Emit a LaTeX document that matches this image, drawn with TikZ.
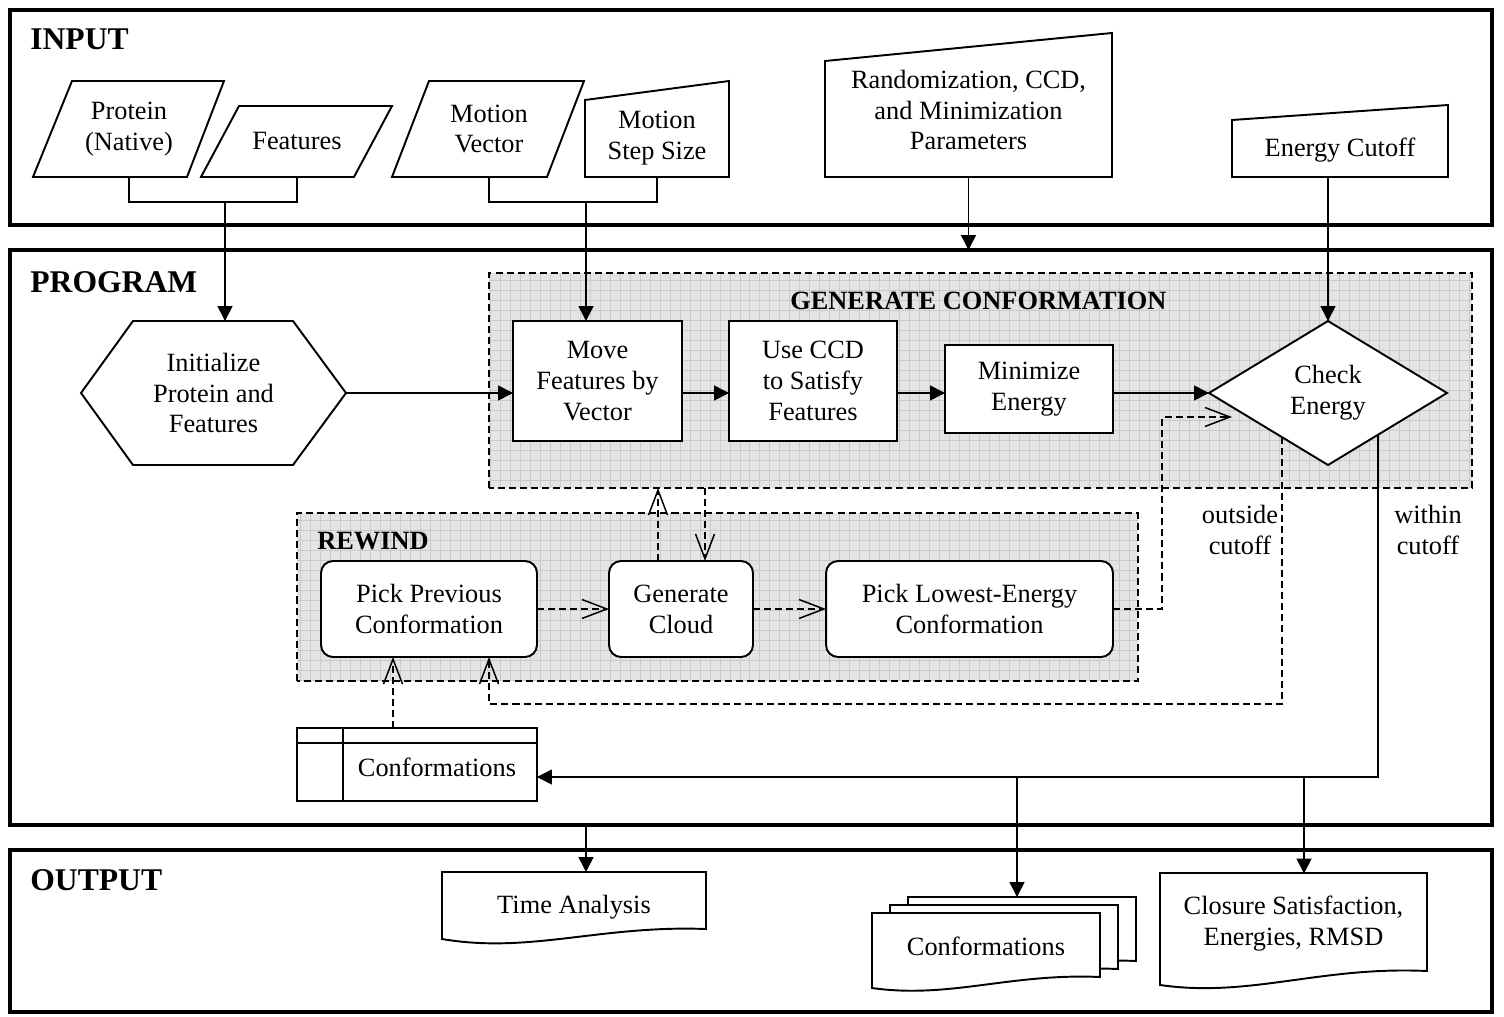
\documentclass[tikz,border=0pt]{standalone}
\usepackage{fontspec}
\setmainfont{Liberation Serif}
\usetikzlibrary{shapes.geometric,arrows.meta,calc}

\definecolor{regionfill}{HTML}{E4E4E4}
\definecolor{regiongrid}{HTML}{CACACA}

\begin{document}
\begin{tikzpicture}[x=0.02cm, y=-0.02cm,
  font=\fontsize{15}{17.6}\selectfont,
  panel/.style={draw, line width=2.3pt},
  shp/.style={draw, line width=1.1pt, fill=white},
  txt/.style={align=center, inner sep=0pt, outer sep=0pt},
  box/.style={draw, line width=1.1pt, fill=white, align=center, inner sep=0pt, outer sep=0pt},
  rbox/.style={box, rounded corners=0.24cm},
  region/.style={fill=regionfill, inner sep=0pt, outer sep=0pt},
  regionline/.style={draw, line width=0.85pt, dash pattern=on 4pt off 2.3pt},
  gridline/.style={draw=regiongrid, line width=0.4pt, step=0.2cm},
  wire/.style={line width=0.85pt},
  flow/.style={wire, -{Triangle[length=0.3cm, width=0.3cm]}},
  loop/.style={wire, dash pattern=on 4pt off 2.3pt, -{Straight Barb[length=0.5cm, width=0.38cm]}},
  head/.style={font=\fontsize{18}{21}\selectfont\bfseries, anchor=base west, inner sep=0pt},
  subhead/.style={font=\fontsize{15}{17.6}\selectfont\bfseries, anchor=base west, inner sep=0pt},
]

\fill[white] (0,0) rectangle (1504,1017);
\useasboundingbox (0,0) rectangle (1504,1017);

% Input panel
\draw[panel] (10,10) rectangle (1492,225);
\node[head] (inhead) at (30,50) {INPUT};

\draw[shp] (72,81) -- (224,81) -- (187,177) -- (33,177) -- cycle;
\node[txt, minimum height=1.92cm] (prot) at (129,129) {Protein\\(Native)};
\draw[shp] (239,106) -- (392,106) -- (354,177) -- (201,177) -- cycle;
\node[txt, minimum height=1.42cm] (feat) at (297,141.5) {Features};
\draw[shp] (429,81) -- (584,81) -- (547,177) -- (392,177) -- cycle;
\node[txt, minimum height=1.92cm] (mvec) at (489,129) {Motion\\Vector};
\draw[shp] (585,100) -- (729,81) -- (729,177) -- (585,177) -- cycle;
\node[txt, minimum height=1.54cm] (mstep) at (657,138.5) {Motion\\Step Size};
\draw[shp] (825,61) -- (1112,33) -- (1112,177) -- (825,177) -- cycle;
\node[txt, minimum height=2.68cm] (rand) at (968.5,110) {Randomization, CCD,\\and Minimization\\Parameters};
\draw[shp] (1232,120) -- (1448,105) -- (1448,177) -- (1232,177) -- cycle;
\node[txt, minimum height=1.08cm] (ecut) at (1340,150) {Energy Cutoff};

% Program panel
\draw[panel] (10,250) rectangle (1492,825);
\node[head] (proghead) at (30,292) {PROGRAM};

% Shaded regions
\node[region, minimum width=19.66cm, minimum height=4.3cm] (gen) at (980.5,380.5) {};
\draw[gridline] (gen.south west) grid (gen.north east);
\draw[regionline] (gen.south west) rectangle (gen.north east);
\node[subhead] (genhead) at (790,309) {GENERATE CONFORMATION};

\node[region, minimum width=16.82cm, minimum height=3.36cm] (rew) at (717.5,597) {};
\draw[gridline] (rew.south west) grid (rew.north east);
\draw[regionline] (rew.south west) rectangle (rew.north east);
\node[subhead] (rewhead) at (317,549) {REWIND};

% Program steps
\draw[shp] (81,393) -- (133,321) -- (293,321) -- (346,393) -- (293,465) -- (133,465) -- cycle;
\node[txt, minimum width=5.3cm, minimum height=2.88cm] (hex) at (213.5,393) {Initialize\\Protein and\\Features};

\node[box, minimum width=3.38cm, minimum height=2.4cm] (move) at (597.5,381) {Move\\Features by\\Vector};
\node[box, minimum width=3.36cm, minimum height=2.4cm] (ccd) at (813,381) {Use CCD\\to Satisfy\\Features};
\node[box, minimum width=3.36cm, minimum height=1.76cm] (mini) at (1029,389) {Minimize\\Energy};
\node[box, diamond, minimum width=4.76cm, minimum height=2.88cm] (check) at (1328,393) {Check\\Energy};

\node[rbox, minimum width=4.32cm, minimum height=1.92cm] (pick) at (429,609) {Pick Previous\\Conformation};
\node[rbox, minimum width=2.88cm, minimum height=1.92cm] (cloud) at (681,609) {Generate\\Cloud};
\node[rbox, minimum width=5.74cm, minimum height=1.92cm] (low) at (969.5,609) {Pick Lowest-Energy\\Conformation};

% Stored conformations
\node[draw, line width=1.1pt, fill=white, minimum width=4.8cm, minimum height=1.46cm, inner sep=0pt, outer sep=0pt] (store) at (417,764.5) {};
\draw[line width=1.1pt] ($(store.north west)+(0,15)$) -- ($(store.north east)+(0,15)$);
\draw[line width=1.1pt] ($(store.north west)+(46,0)$) -- ($(store.south west)+(46,0)$);
\node[txt] (storetxt) at (437,767) {Conformations};

\node[txt] (outside) at (1240,530) {outside\\cutoff};
\node[txt] (within) at (1428,530) {within\\cutoff};

% Output panel
\draw[panel] (10,850) rectangle (1492,1012);
\node[head] (outhead) at (30,890) {OUTPUT};

\draw[shp] (442,872) -- (706,872) -- (706,929) .. controls (600,925) and (530,954) .. (442,939) -- cycle;
\node[txt, minimum height=1.4cm] (time) at (574,907) {Time Analysis};

\foreach \dx/\dy in {36/-16, 18/-8, 0/0}
  \draw[shp, shift={(\dx,\dy)}] (872,913) -- (1100,913) -- (1100,977) .. controls (1010,973) and (950,999) .. (872,988) -- cycle;
\node[txt] (stack) at (986,946) {Conformations};
\coordinate (stacktop) at (1017,897);

\draw[shp] (1160,873) -- (1427,873) -- (1427,971) .. controls (1320,966) and (1250,998) .. (1160,985) -- cycle;
\node[txt, minimum height=2.02cm] (clos) at (1293.5,924) {Closure Satisfaction,\\Energies, RMSD};

% Connectors from the inputs
\coordinate (j1) at (225,202);
\coordinate (j2) at (586,202);
\draw[wire] (prot.south) -- ++(0,25) -| (feat.south);
\draw[wire] (mvec.south) -- ++(0,25) -| (mstep.south);
\draw[flow] (j1) -- (j1 |- hex.north);
\draw[flow] (j2) -- (j2 |- move.north);
\draw[flow] (rand.south) -- (rand.south |- 0,250);
\draw[flow] (ecut.south -| check.north) -- (check.north);

% Main flow
\draw[flow] (hex.east) -- (hex.east -| move.west);
\draw[flow] (move.east |- hex.east) -- (ccd.west |- hex.east);
\draw[flow] (ccd.east |- hex.east) -- (mini.west |- hex.east);
\draw[flow] (mini.east |- hex.east) -- (check.west);

% Rewind loop
\coordinate (back) at ($(check.west)+(23,24)$);
\draw[loop] (pick.east) -- (cloud.west);
\draw[loop] (cloud.east) -- (low.west);
\draw[loop] (cloud.north -| 658,0) -- (gen.south -| 658,0);
\draw[loop] (gen.south -| 705,0) -- (cloud.north -| 705,0);
\draw[loop] (low.east) -- ++(49,0) |- (back);
\draw[loop] (check.224) -- (check.224 |- 0,704) -| ($(pick.south)+(60,0)$);
\draw[loop] (store.north -| 393,0) -- (pick.south -| 393,0);

% Results
\coordinate (bus) at (check.320 |- 0,777);
\draw[flow] (check.320) -- (bus) -- (store.east |- bus);
\draw[flow] (bus -| stacktop) -- (stacktop);
\draw[flow] (bus -| 1304,0) -- (clos.north -| 1304,0);
\coordinate (progout) at (586,825);
\draw[flow] (progout) -- (progout |- time.north);

\end{tikzpicture}
\end{document}
